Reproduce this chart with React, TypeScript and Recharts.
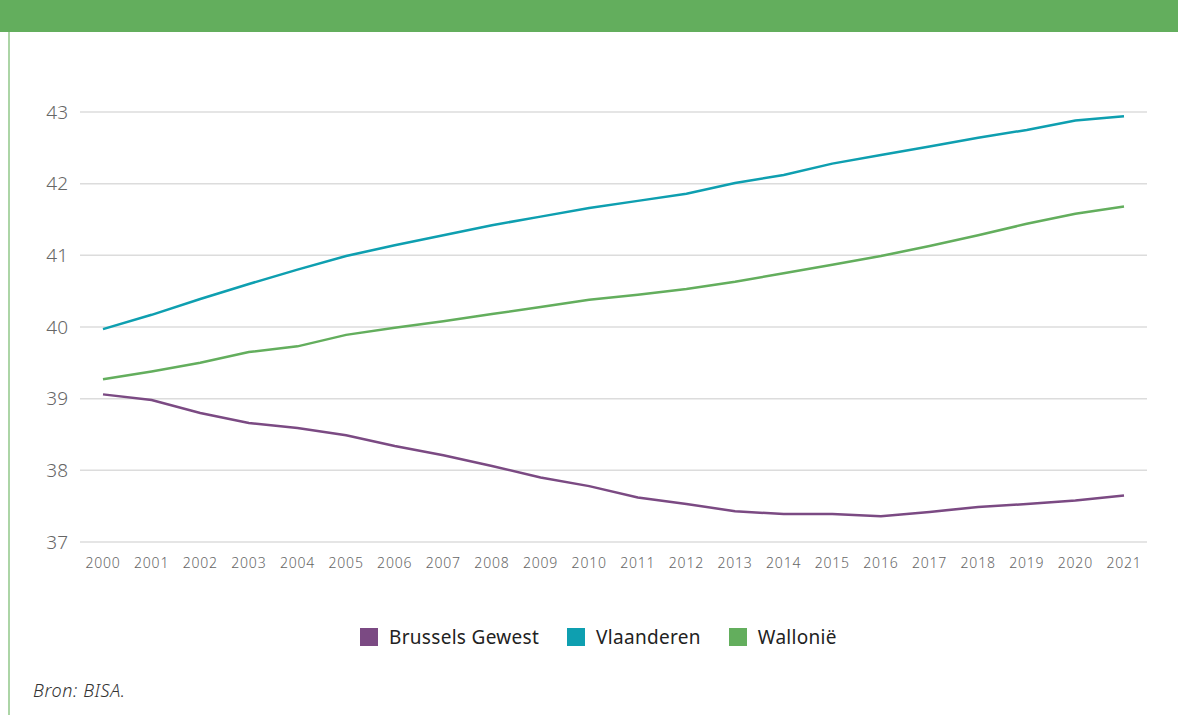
import React from 'react';
import { LineChart, Line, XAxis, YAxis, CartesianGrid } from 'recharts';

const YEARS = ['2000', '2001', '2002', '2003', '2004', '2005', '2006', '2007', '2008', '2009', '2010',
    '2011', '2012', '2013', '2014', '2015', '2016', '2017', '2018', '2019', '2020', '2021'];

const BRUSSELS = [39.06, 38.98, 38.8, 38.66, 38.59, 38.49, 38.34, 38.21, 38.06, 37.9, 37.78,
    37.62, 37.53, 37.43, 37.39, 37.39, 37.36, 37.42, 37.49, 37.53, 37.58, 37.65];
const VLAANDEREN = [39.97, 40.17, 40.39, 40.6, 40.8, 40.99, 41.14, 41.28, 41.42, 41.54, 41.66,
    41.76, 41.86, 42.01, 42.12, 42.28, 42.4, 42.52, 42.64, 42.75, 42.88, 42.94];
const WALLONIE = [39.27, 39.38, 39.5, 39.65, 39.73, 39.89, 39.99, 40.08, 40.18, 40.28, 40.38,
    40.45, 40.53, 40.63, 40.75, 40.87, 40.99, 41.13, 41.28, 41.44, 41.58, 41.68];

const Y_TICKS = [37, 38, 39, 40, 41, 42, 43];

const SERIES = [
    { key: 'brussels', name: 'Brussels Gewest', color: '#7b4a83' },
    { key: 'vlaanderen', name: 'Vlaanderen', color: '#0e9fb0' },
    { key: 'wallonie', name: 'Wallonië', color: '#63ae5d' },
];

const data = YEARS.map((year, i) => ({
    year,
    brussels: BRUSSELS[i],
    vlaanderen: VLAANDEREN[i],
    wallonie: WALLONIE[i],
}));

const FONT = '"Noto Sans", "Open Sans", sans-serif';

export default function App() {
    return (
        <div style={{ position: 'absolute', left: 0, top: 0, width: 1178, height: 715, background: '#fff', overflow: 'hidden', fontFamily: FONT }}>
            <div style={{ position: 'absolute', left: 0, top: 0, width: 1178, height: 32, background: '#63ae5d' }} />
            <div style={{ position: 'absolute', left: 8, top: 32, width: 2, height: 683, background: '#acd5a6' }} />
            <div style={{ position: 'absolute', left: 0, top: 0 }}>
                <LineChart width={1178} height={600} data={data} margin={{ top: 112, right: 31, bottom: 28, left: 0 }}>
                    <CartesianGrid vertical={false} stroke="#dcdcdc" strokeWidth={1.5} />
                    <XAxis
                        dataKey="year"
                        height={30}
                        axisLine={false}
                        tickLine={false}
                        tickMargin={10}
                        padding={{ left: 23, right: 23 }}
                        interval={0}
                        tick={{ fill: '#666', fontSize: 14, fontFamily: FONT, fontWeight: 300, letterSpacing: 0.8 }}
                    />
                    <YAxis
                        width={80}
                        domain={[37, 43]}
                        ticks={Y_TICKS}
                        axisLine={false}
                        tickLine={false}
                        tickMargin={6}
                        tick={{ fill: '#666', fontSize: 19, fontFamily: FONT, fontWeight: 300 }}
                    />
                    {SERIES.map((s) => (
                        <Line
                            key={s.key}
                            dataKey={s.key}
                            name={s.name}
                            stroke={s.color}
                            strokeWidth={2.5}
                            dot={false}
                            type="linear"
                            isAnimationActive={false}
                        />
                    ))}
                </LineChart>
            </div>
            <div style={{ position: 'absolute', left: 360, top: 624, display: 'flex' }}>
                {SERIES.map((s) => (
                    <div key={s.key} style={{ display: 'flex', alignItems: 'center', marginRight: 28 }}>
                        <span style={{ display: 'inline-block', width: 18, height: 18, background: s.color, marginRight: 11 }} />
                        <span style={{ fontSize: 19, letterSpacing: 0.3, color: '#222' }}>{s.name}</span>
                    </div>
                ))}
            </div>
            <div style={{ position: 'absolute', left: 33, top: 678, fontSize: 18, letterSpacing: 0.6, fontStyle: 'italic', color: '#333', fontWeight: 300 }}>
                Bron: BISA.
            </div>
        </div>
    );
}
